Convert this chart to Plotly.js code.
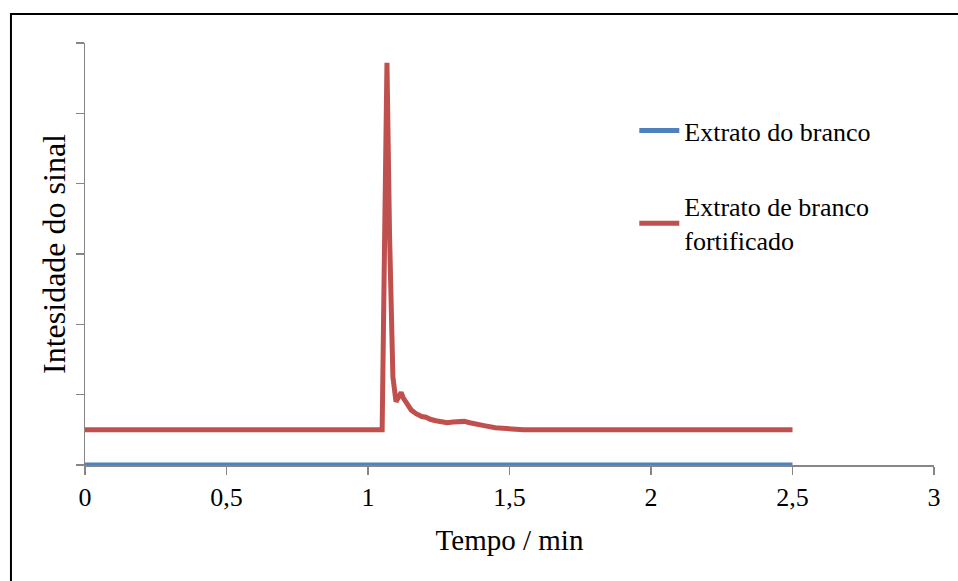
<!DOCTYPE html>
<html>
<head>
<meta charset="utf-8">
<script src="https://cdn.plot.ly/plotly-3.0.1.min.js"></script>
<style>
  html, body { margin: 0; padding: 0; background: #fff; }
  #chart { width: 958px; height: 581px; }
</style>
</head>
<body>
<div id="chart"></div>
<script>
// Data
const seriesNames = ["Extrato do branco", "Extrato de branco<br>fortificado"];

const blankTime = [0, 0.5, 1.0, 1.5, 2.0, 2.5];
const blankSignal = [0, 0, 0, 0, 0, 0];

const spikedTime = [0, 0.5, 1.0, 1.05, 1.058, 1.067, 1.076, 1.088, 1.099, 1.108, 1.117,
                    1.125, 1.138, 1.153, 1.17, 1.19, 1.205, 1.22, 1.24, 1.26, 1.28, 1.30,
                    1.32, 1.34, 1.36, 1.38, 1.41, 1.45, 1.50, 1.55, 2.0, 2.5];
const spikedSignal = [0.5, 0.5, 0.5, 0.5, 3.0, 5.72, 3.3, 1.25, 0.90, 0.97, 1.03,
                      0.95, 0.86, 0.78, 0.73, 0.69, 0.68, 0.65, 0.63, 0.61, 0.60, 0.61,
                      0.62, 0.62, 0.60, 0.58, 0.56, 0.53, 0.51, 0.50, 0.50, 0.50];

const xTickVals = [0, 0.5, 1, 1.5, 2, 2.5, 3];
const xTickText = ["0", "0,5", "1", "1,5", "2", "2,5", "3"];

const serif = 'Liberation Serif, Times New Roman, serif';
const axisGrey = '#868686';

const traces = [
  {
    x: blankTime, y: blankSignal, name: seriesNames[0], type: 'scatter', mode: 'lines',
    line: { color: '#4F81BD', width: 5 }, legendgroup: 'a'
  },
  {
    x: spikedTime, y: spikedSignal, name: seriesNames[1], type: 'scatter', mode: 'lines',
    line: { color: '#C0504D', width: 5 }, legendgroup: 'b'
  }
];

const layout = {
  width: 958, height: 581,
  margin: { l: 85, r: 24, t: 43, b: 116 },
  paper_bgcolor: '#ffffff', plot_bgcolor: '#ffffff',
  font: { family: serif, color: '#000000', size: 26 },
  showlegend: true,
  legend: {
    x: 0.647, y: 0.848, xanchor: 'left', yanchor: 'top',
    bgcolor: 'rgba(0,0,0,0)', font: { family: serif, size: 26, color: '#000' },
    tracegroupgap: 39, traceorder: 'grouped', itemwidth: 40
  },
  xaxis: {
    range: [0, 3], tickvals: xTickVals, ticktext: xTickText,
    showline: true, linecolor: axisGrey, linewidth: 1.5,
    ticks: 'outside', ticklen: 8, tickcolor: axisGrey, tickwidth: 1.5,
    showgrid: false, zeroline: false,
    tickfont: { family: serif, size: 26, color: '#000' },
    title: { text: 'Tempo / min', font: { family: serif, size: 29, color: '#000' }, standoff: 19 }
  },
  yaxis: {
    range: [0, 6], dtick: 1, tick0: 0,
    showline: true, linecolor: axisGrey, linewidth: 1.5,
    ticks: 'outside', ticklen: 8, tickcolor: axisGrey, tickwidth: 1.5,
    showticklabels: false, showgrid: false, zeroline: false,
    title: { text: 'Intesidade do sinal', font: { family: serif, size: 32, color: '#000' }, standoff: 0 }
  },
  shapes: [
    {
      type: 'rect', xref: 'paper', yref: 'paper',
      x0: -0.0872, x1: 1.04, y0: -0.30, y1: 1.0687,
      line: { color: '#000000', width: 2 }, fillcolor: 'rgba(0,0,0,0)', layer: 'below'
    }
  ]
};

Plotly.newPlot('chart', traces, layout, { displayModeBar: false, staticPlot: true });
</script>
</body>
</html>
